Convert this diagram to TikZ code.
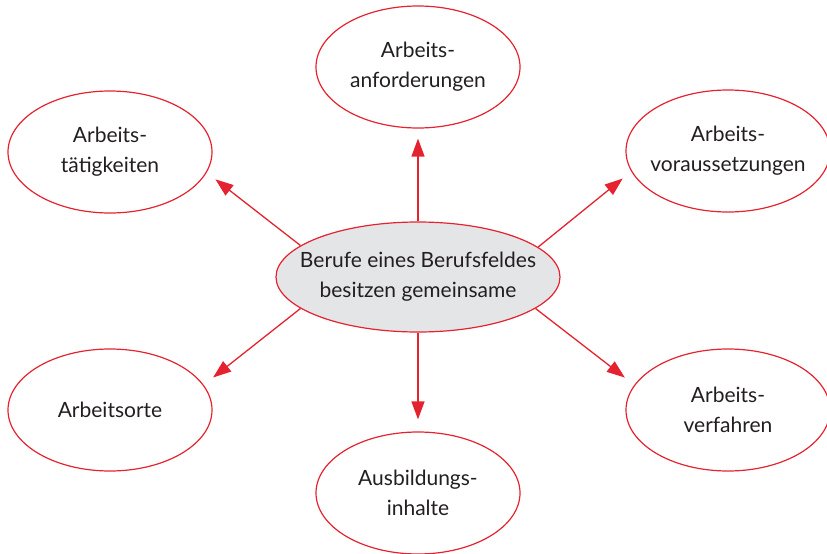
\documentclass[tikz,border=0pt]{standalone}
\usepackage{fontspec}
\setmainfont{Lato}
\usetikzlibrary{shapes.geometric,arrows.meta}
\definecolor{rd}{HTML}{E52330}
\definecolor{gry}{HTML}{E4E5E7}
\definecolor{txt}{HTML}{231F20}
\tikzset{
  bubble/.style={ellipse, draw=rd, line width=1.2pt, inner xsep=-40pt, inner ysep=0pt,
    minimum width=204pt, minimum height=122pt, align=center, text=txt,
    font=\fontsize{21}{30}\selectfont},
  hub/.style={bubble, fill=gry, minimum width=284pt, minimum height=110pt},
  arr/.style={draw=rd, line width=1.3pt, -{Triangle[length=18pt,width=13pt]}, color=rd}
}
\begin{document}
\begin{tikzpicture}[x=1pt,y=-1pt]
\useasboundingbox (0,0) rectangle (827,554);
\node[hub] (c) at (418,277) {Berufe eines Berufsfeldes\\besitzen gemeinsame};
\node[bubble] (tc) at (418,67) {Arbeits-\\anforderungen};
\node[bubble] (tl) at (110,152) {Arbeits-\\tätigkeiten};
\node[bubble] (tr) at (728,151) {Arbeits-\\voraussetzungen};
\node[bubble] (bl) at (110,410) {Arbeitsorte};
\node[bubble] (br) at (728,410) {Arbeits-\\verfahren};
\node[bubble] (bc) at (418,493) {Ausbildungs-\\inhalte};
\draw[arr, shorten >=10pt] (c.north) -- (tc.south);
\draw[arr, shorten >=12pt] (c.south) -- (bc.north);
\draw[arr, shorten >=11pt] (c.165) -- (tl.-12);
\draw[arr, shorten >=11pt] (c.14) -- (tr.192);
\draw[arr, shorten >=12pt] (c.-15) -- (br.165);
\draw[arr, shorten >=12pt] (c.195) -- (bl.15);
\end{tikzpicture}
\end{document}
